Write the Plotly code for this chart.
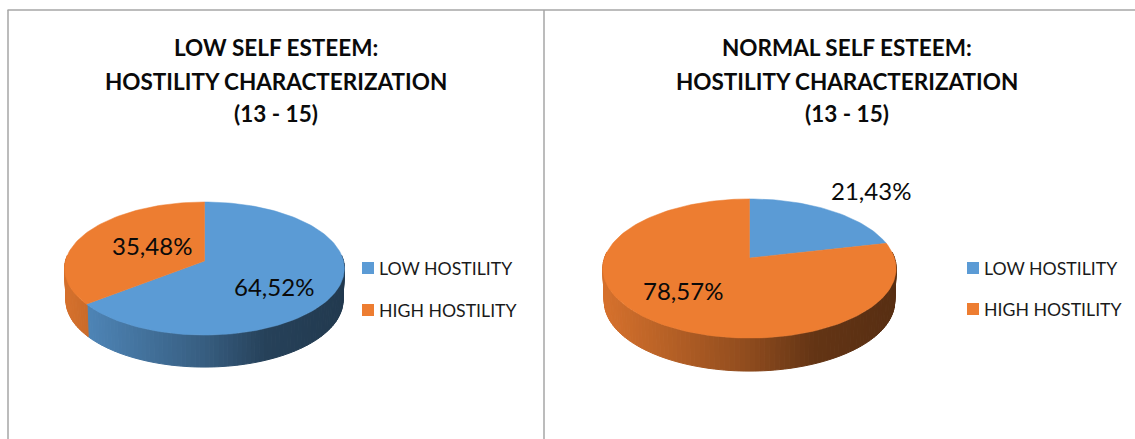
import math
import plotly.graph_objects as go

W, H = 1135, 439
FONT = "Lato"

categories = ["LOW HOSTILITY", "HIGH HOSTILITY"]
low_esteem_values = [64.52, 35.48]
normal_esteem_values = [21.43, 78.57]
title_lines_left = ["LOW SELF ESTEEM:", "HOSTILITY CHARACTERIZATION", "(13 - 15)"]
title_lines_right = ["NORMAL SELF ESTEEM:", "HOSTILITY CHARACTERIZATION", "(13 - 15)"]
colors = ["#5b9bd5", "#ed7d31"]

# pixel geometry of each pie: pivot, radii, perspective, rim depth
pies = [
    dict(vals=low_esteem_values, cx=204.5, cy=261, rx=139, ry=65.7, k=0.113, depth=32,
         titles=title_lines_left, title_x=275.5, leg_x=362, leg_ys=(268, 310),
         xa="x", ya="y",
         lab=[(0.55, -1, -9), (0.45, 2, 3)]),
    dict(vals=normal_esteem_values, cx=749.5, cy=258, rx=145, ry=68, k=0.151, depth=33,
         titles=title_lines_right, title_x=846.5, leg_x=967, leg_ys=(268, 309),
         xa="x2", ya="y2",
         lab=[(1.5, 6, 0), (0.62, -6, 3)]),
]

RX_PAD, RY_TOP, RY_BOT = 1.15, 1.3, 1.9


def project(theta, k, r=1.0):
    X, Y = r * math.sin(theta), r * math.cos(theta)
    d = 1 + k * Y
    return X / d, Y / d


def shade(hex_color, t):
    stops = [(0.0, 0.90), (0.5, 0.60), (0.72, 0.42), (1.0, 0.37)]
    f = stops[-1][1]
    for (t0, f0), (t1, f1) in zip(stops, stops[1:]):
        if t <= t1:
            f = f0 + (f1 - f0) * (max(t, t0) - t0) / (t1 - t0)
            break
    r, g, b = (int(hex_color[i:i + 2], 16) for i in (1, 3, 5))
    return f"rgb({r * f:.0f},{g * f:.0f},{b * f:.0f})"


fig = go.Figure()
annotations = []
shapes = []

for p in pies:
    k, dy = p["k"], p["depth"] / p["ry"]
    axis = dict(xaxis=p["xa"], yaxis=p["ya"])
    cuts = [0.0]
    for v in p["vals"]:
        cuts.append(cuts[-1] + v / sum(p["vals"]) * 2 * math.pi)

    # rim: thin vertical bands around the front of the pie
    n = 110
    a0, a1 = math.radians(85), math.radians(275)
    for i in range(n):
        t0 = a0 + (a1 - a0) * i / n
        t1 = a0 + (a1 - a0) * (i + 1) / n
        mid = (t0 + t1) / 2
        idx = 0 if mid < cuts[1] else 1
        x0, y0 = project(t0, k)
        x1, y1 = project(t1, k)
        col = shade(colors[idx], (project(mid, k)[0] + 1) / 2)
        fig.add_trace(go.Scatter(
            x=[x0, x1, x1 * 0.99, x0 * 0.99, x0],
            y=[y0, y1, y1 - dy, y0 - dy, y0],
            mode="lines", fill="toself", fillcolor=col,
            line=dict(color=col, width=1),
            hoverinfo="skip", showlegend=False, **axis))

    # top surface
    for i, v in enumerate(p["vals"]):
        steps = max(8, int(v * 2))
        xs, ys = [0.0], [0.0]
        for s in range(steps + 1):
            x, y = project(cuts[i] + (cuts[i + 1] - cuts[i]) * s / steps, k)
            xs.append(x)
            ys.append(y)
        xs.append(0.0)
        ys.append(0.0)
        fig.add_trace(go.Scatter(
            x=xs, y=ys, mode="lines", fill="toself", fillcolor=colors[i],
            line=dict(color=colors[i], width=0.5),
            name=categories[i], hoverinfo="text",
            text=f"{categories[i]}: {v}%", showlegend=False, **axis))

        r, sx, sy = p["lab"][i]
        mid = (cuts[i] + cuts[i + 1]) / 2
        lx, ly = project(mid, k, r)
        annotations.append(dict(
            x=lx, y=ly, xref=p["xa"], yref=p["ya"], xshift=sx, yshift=sy,
            text=f"{v:.2f}".replace(".", ",") + "%", showarrow=False,
            font=dict(family=FONT, size=24, color="#0a0a0a")))

    # legend: square key plus text
    for i, c in enumerate(categories):
        y_px = p["leg_ys"][i]
        shapes.append(dict(
            type="rect", xref="paper", yref="paper",
            x0=p["leg_x"] / W, x1=(p["leg_x"] + 12) / W,
            y0=1 - (y_px + 6) / H, y1=1 - (y_px - 6) / H,
            fillcolor=colors[i], line=dict(width=0)))
        annotations.append(dict(
            x=(p["leg_x"] + 15) / W, y=1 - y_px / H, xref="paper", yref="paper",
            text=c, showarrow=False, xanchor="left", yanchor="middle",
            font=dict(family=FONT, size=17.7, color="#1a1a1a")))

    # title
    for line, y_px in zip(p["titles"], (47, 81, 114)):
        annotations.append(dict(
            x=p["title_x"] / W, y=1 - y_px / H, xref="paper", yref="paper",
            text=f"<b>{line}</b>", showarrow=False, xanchor="center", yanchor="middle",
            font=dict(family=FONT, size=22.5, color="#0a0a0a")))


def axes_for(p):
    hidden = dict(visible=False, fixedrange=True)
    x_dom = [(p["cx"] - RX_PAD * p["rx"]) / W, (p["cx"] + RX_PAD * p["rx"]) / W]
    y_dom = [1 - (p["cy"] + RY_BOT * p["ry"]) / H, 1 - (p["cy"] - RY_TOP * p["ry"]) / H]
    return (dict(hidden, range=[-RX_PAD, RX_PAD], domain=x_dom),
            dict(hidden, range=[-RY_BOT, RY_TOP], domain=y_dom))


xa1, ya1 = axes_for(pies[0])
xa2, ya2 = axes_for(pies[1])

line_col = "#a6a6a6"
for x0, x1, y0, y1 in [
    (7.5 / W, 1, 1 - 10 / H, 1 - 10 / H),
    (8 / W, 8 / W, 0, 1 - 10 / H),
    (544 / W, 544 / W, 0, 1 - 10 / H),
]:
    shapes.append(dict(type="line", xref="paper", yref="paper", x0=x0, x1=x1, y0=y0, y1=y1,
                       line=dict(color=line_col, width=1.5)))

fig.update_layout(
    margin=dict(l=0, r=0, t=0, b=0),
    paper_bgcolor="white", plot_bgcolor="white",
    showlegend=False,
    xaxis=xa1, yaxis=ya1, xaxis2=xa2, yaxis2=ya2,
    annotations=annotations, shapes=shapes,
)

fig.write_html(
    "out.html",
    config={"displayModeBar": False, "responsive": True},
    default_width="100vw",
    default_height="100vh",
    post_script="document.documentElement.style.overflow='hidden';document.body.style.margin='0';",
)
